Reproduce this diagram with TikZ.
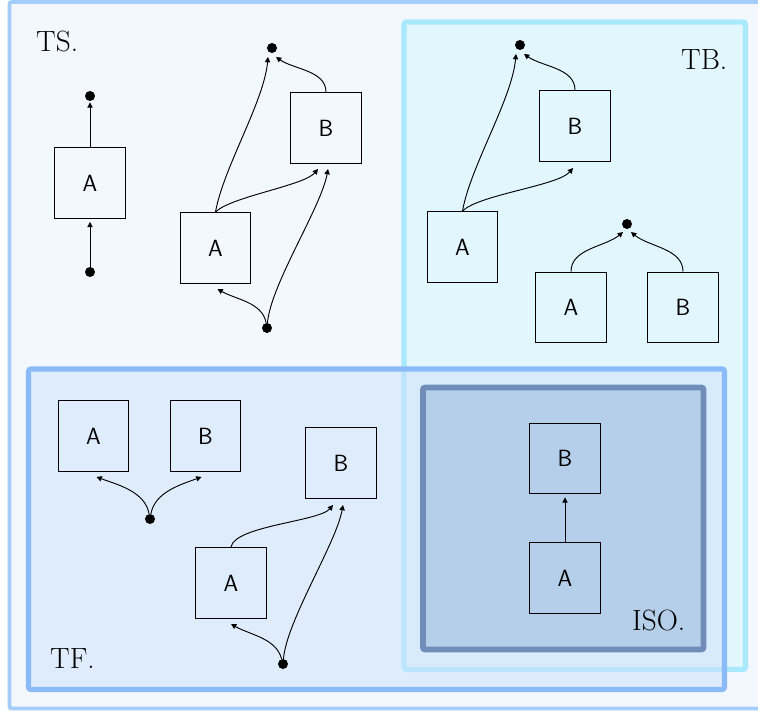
\documentclass[tikz,border=0pt]{standalone}
\usetikzlibrary{arrows.meta,calc}

\definecolor{outerfill}{RGB}{243,248,254}
\definecolor{outerline}{RGB}{164,205,250}
\definecolor{tbfill}{RGB}{226,246,254}
\definecolor{tbline}{RGB}{168,233,253}
\definecolor{tffill}{RGB}{205,226,252}
\definecolor{tfline}{RGB}{139,186,248}
\definecolor{isofill}{RGB}{181,206,233}
\definecolor{isoline}{RGB}{112,141,186}

\tikzset{
  box/.style={draw,line width=1.1pt,minimum size=2.12cm,inner sep=0pt,font=\sffamily\fontsize{20}{23}\selectfont},
  dot/.style={circle,fill,minimum size=0.3cm,inner sep=0pt},
  arr/.style={-{Triangle[length=4.5pt,width=4.5pt]},line width=0.8pt},
  lbl/.style={anchor=base west,inner sep=0pt,font=\fontsize{25}{28}\selectfont}
}

\begin{document}
\begin{tikzpicture}[x=0.03cm,y=-0.03cm]
\useasboundingbox (0,0) rectangle (758,712);
\clip (0,0) rectangle (758,712);

%rámy
\draw[outerline,fill=outerfill,line width=3.4pt,rounded corners=2pt] (9.5,2) rectangle (775,708.5);
\draw[tbline,fill=tbfill,line width=4.3pt,rounded corners=2pt] (404,22) rectangle (745.5,669.5);
\draw[tfline,fill=tffill,fill opacity=0.5,line width=4.3pt,rounded corners=2pt] (28.5,369) rectangle (724.5,689.5);
\draw[isoline,fill=isofill,line width=5pt,rounded corners=2pt] (423,387.5) rectangle (703.5,649.5);

%nápisy
\node[lbl] (ts) at (36,52) {TS.};
\node[lbl] (tb) at (681,70) {TB.};
\node[lbl] (tf) at (50,668) {TF.};
\node[lbl] (iso) at (632,630) {ISO.};

%TS vlevo
\node[box] (tsa) at (90,183) {A};
\node[dot] (tsatop) at (90,96) {};
\node[dot] (tsabot) at (90,272) {};
\draw[arr,shorten >=2.5pt] (tsabot) -- (tsa);
\draw[arr,shorten >=1pt] (tsa) -- (tsatop);

%TS vpravo
\node[box] (tsa2) at (215.5,248) {A};
\node[box] (tsb2) at (326,128) {B};
\node[dot] (tstop) at (272,48) {};
\node[dot] (tsbot) at (267,328) {};
\draw[arr] (tsa2.north) to[out=80,in=-95,looseness=0.7] ($(tstop)+(-4,9)$);
\draw[arr] (tsa2.north) to[out=45,in=-130,looseness=0.5] ($(tsb2.south)+(-8,5)$);
\draw[arr] (tsb2.north) to[out=90,in=-35,looseness=0.9] ($(tstop)+(4,9)$);
\draw[arr] (tsbot) to[out=100,in=-30,looseness=0.9] ($(tsa2.south)+(2,5)$);
\draw[arr] (tsbot) to[out=85,in=-100,looseness=0.6] ($(tsb2.south)+(2,5)$);

%TB nahore
\node[box] (tba) at (462.5,247) {A};
\node[box] (tbb) at (575,126) {B};
\node[dot] (tbtop) at (520,45) {};
\draw[arr] (tba.north) to[out=80,in=-95,looseness=0.7] ($(tbtop)+(-4,9)$);
\draw[arr] (tba.north) to[out=45,in=-130,looseness=0.5] ($(tbb.south)+(-2,6)$);
\draw[arr] (tbb.north) to[out=90,in=-35,looseness=0.9] ($(tbtop)+(4,9)$);

%TB dole
\node[box] (tba3) at (571,307.5) {A};
\node[box] (tbb3) at (683,307.5) {B};
\node[dot] (tbtop3) at (627,224) {};
\draw[arr] (tba3.north) to[out=90,in=-140,looseness=0.9] ($(tbtop3)+(-4,8)$);
\draw[arr] (tbb3.north) to[out=90,in=-40,looseness=0.9] ($(tbtop3)+(4,8)$);

%TF vlevo
\node[box] (tfa) at (93.5,436) {A};
\node[box] (tfb) at (205.5,436) {B};
\node[dot] (tfbot) at (150,519) {};
\draw[arr] (tfbot) to[out=100,in=-20,looseness=0.9] ($(tfa.south)+(3,5)$);
\draw[arr] (tfbot) to[out=80,in=-160,looseness=0.9] ($(tfb.south)+(-4,5)$);

%TF vpravo
\node[box] (tfa2) at (231,583) {A};
\node[box] (tfb2) at (341,463) {B};
\node[dot] (tfbot2) at (283,664) {};
\draw[arr] (tfa2.north) to[out=80,in=-130,looseness=0.5] ($(tfb2.south)+(-8,6)$);
\draw[arr] (tfbot2) to[out=105,in=-30,looseness=0.9] ($(tfa2.south)+(0,5)$);
\draw[arr] (tfbot2) to[out=85,in=-100,looseness=0.6] ($(tfb2.south)+(2,6)$);

%ISO
\node[box] (isob) at (565,458.5) {B};
\node[box] (isoa) at (565,578) {A};
\draw[arr,shorten >=2.5pt] (isoa) -- (isob);

\end{tikzpicture}
\end{document}
